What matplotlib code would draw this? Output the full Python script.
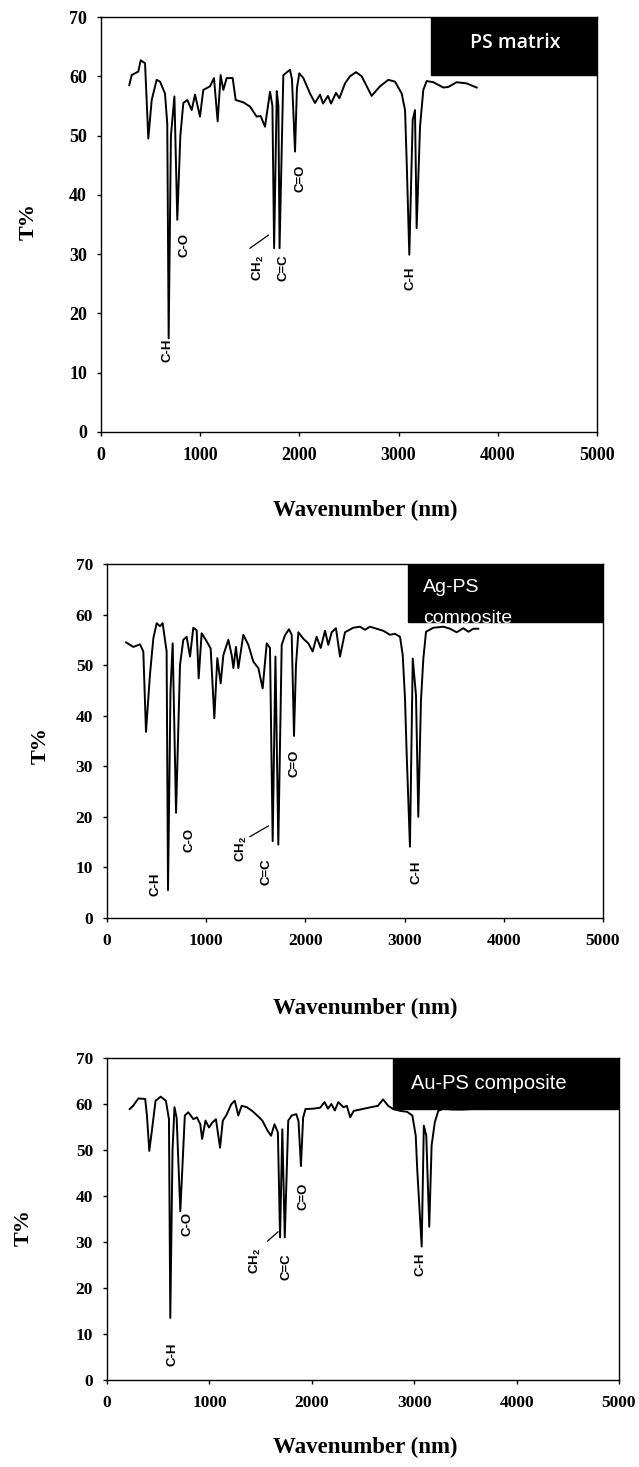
import matplotlib
matplotlib.use('Agg')
import matplotlib.pyplot as plt
from matplotlib.patches import Rectangle

plt.rcParams['mathtext.fontset'] = 'custom'
plt.rcParams['mathtext.rm'] = 'Liberation Sans'
plt.rcParams['mathtext.bf'] = 'Liberation Sans:bold'

# ---- spectra ----
ps_x = [285, 309, 376, 400, 444, 477, 511, 561, 595, 645, 668, 682, 705, 740, 769, 800, 830, 870,
        914, 948, 998, 1031, 1099, 1139, 1176, 1206, 1233, 1267, 1327, 1358, 1435, 1502, 1569, 1609,
        1653, 1704, 1728, 1745, 1772, 1788, 1800, 1838, 1905, 1925, 1956, 1975, 1999, 2040, 2107,
        2157, 2208, 2238, 2288, 2319, 2369, 2403, 2460, 2510, 2571, 2628, 2728, 2812, 2896, 2964,
        3031, 3065, 3082, 3108, 3142, 3165, 3182, 3216, 3249, 3283, 3350, 3451, 3501, 3585, 3686, 3787]
ps_t = [58.5, 60.2, 60.8, 62.7, 62.2, 49.5, 56.0, 59.4, 59.1, 57.1, 52.0, 15.8, 50.0, 56.6, 35.8, 50.0,
        55.5, 56.0, 54.3, 56.9, 53.2, 57.7, 58.3, 59.7, 52.4, 60.2, 57.7, 59.7, 59.7, 56.0, 55.6, 54.9,
        53.2, 53.3, 51.5, 57.4, 55.0, 31.0, 57.5, 55.0, 31.0, 60.2, 61.1, 59.5, 47.3, 58.0, 60.5, 59.7,
        57.1, 55.5, 56.9, 55.4, 56.7, 55.4, 57.2, 56.3, 58.8, 60.0, 60.7, 60.0, 56.7, 58.3, 59.4, 59.1,
        57.1, 54.3, 45.3, 29.9, 52.6, 54.3, 34.4, 51.5, 57.7, 59.2, 59.0, 58.1, 58.2, 59.0, 58.8, 58.1]

ag_x = [192, 265, 333, 366, 393, 433, 467, 501, 534, 561, 601, 615, 640, 662, 696, 736, 769, 803, 837,
        870, 904, 924, 954, 1005, 1045, 1082, 1112, 1146, 1173, 1223, 1257, 1274, 1300, 1324, 1374,
        1425, 1475, 1526, 1569, 1610, 1643, 1670, 1698, 1727, 1761, 1794, 1835, 1862, 1885, 1905,
        1929, 1980, 2030, 2073, 2113, 2154, 2198, 2231, 2265, 2308, 2349, 2399, 2483, 2550, 2601,
        2651, 2718, 2785, 2853, 2903, 2954, 2981, 3004, 3020, 3054, 3082, 3115, 3138, 3165, 3189,
        3216, 3290, 3391, 3458, 3525, 3592, 3643, 3693, 3743]
ag_t = [54.5, 53.6, 54.1, 52.7, 36.8, 48.1, 55.3, 58.3, 57.7, 58.3, 52.7, 5.5, 45.0, 54.3, 20.8, 50.0,
        55.0, 55.6, 51.7, 57.4, 56.9, 47.4, 56.3, 54.7, 53.3, 39.5, 51.4, 46.4, 52.0, 55.0, 52.0, 49.4,
        53.6, 49.4, 56.0, 54.0, 50.7, 49.4, 45.4, 54.3, 53.4, 15.2, 51.7, 14.5, 54.0, 55.9, 57.1, 56.0,
        36.0, 50.0, 56.5, 55.2, 54.3, 52.7, 55.6, 53.4, 56.8, 54.0, 56.5, 57.3, 51.7, 56.5, 57.4, 57.6,
        57.0, 57.6, 57.2, 56.8, 56.0, 56.2, 55.6, 52.0, 43.4, 33.0, 14.1, 51.3, 44.0, 20.0, 43.0, 51.3,
        56.6, 57.4, 57.6, 57.2, 56.5, 57.3, 56.6, 57.2, 57.2]

au_x = [222, 255, 306, 373, 390, 413, 440, 474, 524, 575, 605, 618, 640, 659, 680, 716, 760, 794, 844,
        878, 911, 929, 962, 996, 1030, 1064, 1104, 1131, 1164, 1215, 1248, 1282, 1315, 1366, 1417,
        1467, 1517, 1568, 1602, 1636, 1669, 1690, 1712, 1736, 1770, 1804, 1848, 1870, 1894, 1915,
        1938, 2022, 2082, 2124, 2158, 2191, 2225, 2259, 2309, 2342, 2375, 2409, 2493, 2577, 2645,
        2696, 2746, 2796, 2864, 2930, 2982, 3015, 3030, 3073, 3094, 3118, 3147, 3170, 3201, 3235,
        3286, 3370, 3471, 3572, 3740]
au_t = [58.9, 59.6, 61.2, 61.1, 57.5, 49.8, 54.5, 60.7, 61.6, 60.7, 56.7, 13.5, 50.0, 59.3, 57.0, 36.7,
        57.5, 58.2, 56.7, 57.1, 55.6, 52.4, 56.4, 54.9, 56.0, 56.7, 50.5, 56.4, 57.5, 60.0, 60.7, 57.5,
        59.6, 59.3, 58.5, 57.5, 56.4, 54.2, 53.1, 55.6, 53.8, 31.0, 54.5, 31.0, 56.4, 57.5, 57.8, 56.3,
        46.5, 57.0, 58.9, 59.0, 59.2, 60.4, 59.0, 60.0, 58.6, 60.4, 59.3, 59.6, 57.1, 58.5, 58.9, 59.3,
        59.6, 61.0, 59.6, 58.9, 58.5, 58.3, 57.5, 53.1, 45.6, 29.0, 55.3, 53.1, 33.3, 51.0, 56.0, 58.5,
        59.0, 58.8, 58.8, 58.9, 58.9]

# band labels: (text, x, y)
ps_bands = [('C-H', 667, 13.8), ('C-O', 837, 31.5), (r'CH$_\mathregular{2}$', 1583, 27.7),
            ('C=C', 1835, 27.7), ('C=O', 2013, 42.8), ('C-H', 3122, 26.0)]
ag_bands = [('C-H', 484, 6.7), ('C-O', 830, 15.4), (r'CH$_\mathregular{2}$', 1358, 13.6),
            ('C=C', 1610, 9.1), ('C=O', 1895, 30.5), ('C-H', 3122, 9.1)]
au_bands = [('C-H', 642, 5.6), ('C-O', 787, 34.0), (r'CH$_\mathregular{2}$', 1450, 25.9),
            ('C=C', 1753, 24.6), ('C=O', 1922, 40.0), ('C-H', 3066, 25.2)]

W, H = 639, 1467
fig = plt.figure(figsize=(W / 100, H / 100), dpi=100)


def rect(l, r, t, b):
    return [l / W, 1 - b / H, (r - l) / W, (b - t) / H]


def panel(box, xs, ys, bands, leader, title, ylab_xy, xlab_y, tick_fs):
    ax = fig.add_axes(rect(*box))
    ax.plot(xs, ys, color='black', lw=1.4)
    ax.set_xlim(0, 5000)
    ax.set_ylim(0, 70)
    ax.set_xticks(range(0, 5001, 1000))
    ax.set_yticks(range(0, 71, 10))
    for s in ax.spines.values():
        s.set_linewidth(1.0)
    ax.tick_params(direction='out', length=3, width=1, top=False, right=False)
    ax.tick_params(axis='x', pad=8)
    ax.tick_params(axis='y', pad=7)
    for lab in ax.get_xticklabels() + ax.get_yticklabels():
        lab.set_family('Liberation Serif')
        lab.set_weight('bold')
        lab.set_fontsize(tick_fs)
    for txt, x, y in bands:
        ax.text(x, y, txt, rotation=90, ha='center', va='center', fontsize=9.5,
                fontweight='bold', family='Liberation Sans')
    ax.plot(leader[0], leader[1], color='black', lw=0.9)
    # black label box in the corner
    bx0, by0, lines = title
    r = Rectangle((bx0, by0), 1 - bx0, 1 - by0, transform=ax.transAxes,
                  facecolor='black', edgecolor='black', zorder=5)
    ax.add_patch(r)
    for txt, tx, ty, ha, fam, fs, fw in lines:
        t = ax.text(tx, ty, txt, transform=ax.transAxes, color='white', ha=ha,
                    va='baseline', fontsize=fs, family=fam, fontweight=fw, zorder=6)
        t.set_clip_path(r)
    fig.text(ylab_xy[0] / W, 1 - ylab_xy[1] / H, 'T%', rotation=90, ha='center', va='center',
             fontsize=16, fontweight='bold', family='Liberation Serif')
    fig.text(365 / W, 1 - xlab_y / H, 'Wavenumber (nm)', ha='center', va='center',
             fontsize=16.5, fontweight='bold', family='Liberation Serif')
    return ax


panel((101, 597, 17, 432), ps_x, ps_t, ps_bands, ([1502, 1687], [31.0, 33.2]),
      (0.665, 0.860, [('PS matrix', 0.835, 0.926, 'center', 'Open Sans', 14, 'semibold')]),
      (29, 222), 510, 13)

panel((107, 603, 564, 918), ag_x, ag_t, ag_bands, ([1442, 1627], [16.1, 18.2]),
      (0.607, 0.837, [('Ag-PS', 0.638, 0.922, 'left', 'Liberation Sans', 14, 'normal'),
                      ('composite', 0.638, 0.834, 'left', 'Liberation Sans', 14, 'normal')]),
      (41, 746), 1008, 12.5)

panel((107, 619, 1058, 1380), au_x, au_t, au_bands, ([1568, 1670], [30.2, 32.2]),
      (0.558, 0.843, [('Au-PS composite', 0.593, 0.905, 'left', 'Liberation Sans', 14.5, 'normal')]),
      (24, 1227), 1447, 12.5)

fig.savefig('out.png', dpi=100, facecolor='white')
